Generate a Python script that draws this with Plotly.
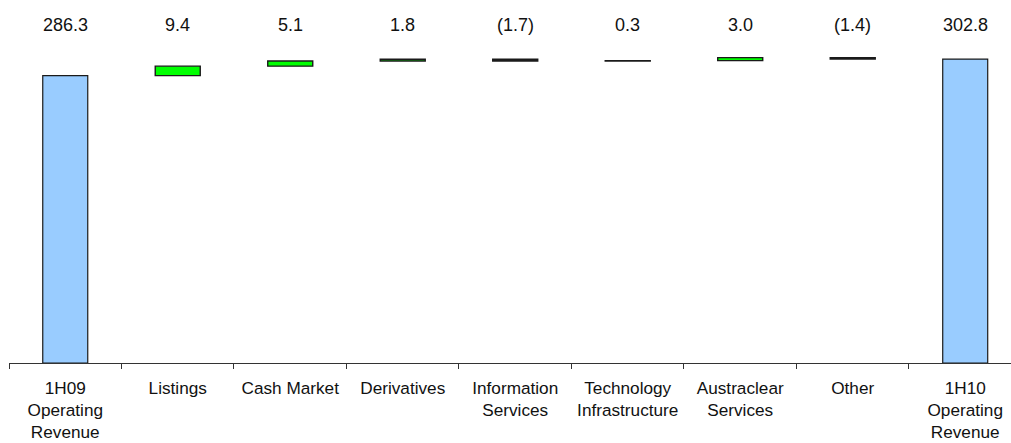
import plotly.graph_objects as go

categories = ["1H09<br>Operating<br>Revenue", "Listings", "Cash Market", "Derivatives",
              "Information<br>Services", "Technology<br>Infrastructure", "Austraclear<br>Services",
              "Other", "1H10<br>Operating<br>Revenue"]
values = [286.3, 9.4, 5.1, 1.8, -1.7, 0.3, 3.0, -1.4, 302.8]
measures = ["absolute", "relative", "relative", "relative", "relative", "relative", "relative",
            "relative", "total"]

def fmt(v):
    return f"({abs(v):.1f})" if v < 0 else f"{v:.1f}"

labels = [fmt(v) for v in values]

FONT = "Liberation Sans, Arial, sans-serif"
FS = 18
TFS = 17.2

fig = go.Figure(go.Waterfall(
    x=categories,
    y=values,
    measure=measures,
    width=0.4,
    connector=dict(visible=False),
    increasing=dict(marker=dict(color="#00FF00", line=dict(color="#1a1a1a", width=1.4))),
    decreasing=dict(marker=dict(color="#202020", line=dict(color="#1a1a1a", width=1.4))),
    totals=dict(marker=dict(color="#99CCFF", line=dict(color="#1a1a1a", width=1.2))),
    hoverinfo="skip",
))

for c, t in zip(categories, labels):
    fig.add_annotation(x=c, y=0.931, yref="paper", text=t, showarrow=False,
                       font=dict(family=FONT, size=FS, color="#111111"),
                       xanchor="center", yanchor="middle")

fig.update_layout(
    width=1011, height=443,
    margin=dict(l=9, r=0, t=0, b=80, autoexpand=False),
    paper_bgcolor="white", plot_bgcolor="white",
    showlegend=False,
    font=dict(family=FONT, size=FS, color="#111111"),
)
fig.update_xaxes(
    type="category",
    range=[-0.5, 8.407],
    automargin=False,
    tickangle=0,
    showline=True, linecolor="#333333", linewidth=1,
    ticks="outside", ticklen=5, tickcolor="#333333", tickwidth=1,
    tickson="boundaries",
    ticklabelstandoff=9,
    showgrid=False, zeroline=False,
    tickfont=dict(family=FONT, size=TFS, color="#111111"),
)
fig.update_yaxes(range=[0, 361.6], visible=False, showgrid=False, zeroline=False)

fig.write_html("out.html")
